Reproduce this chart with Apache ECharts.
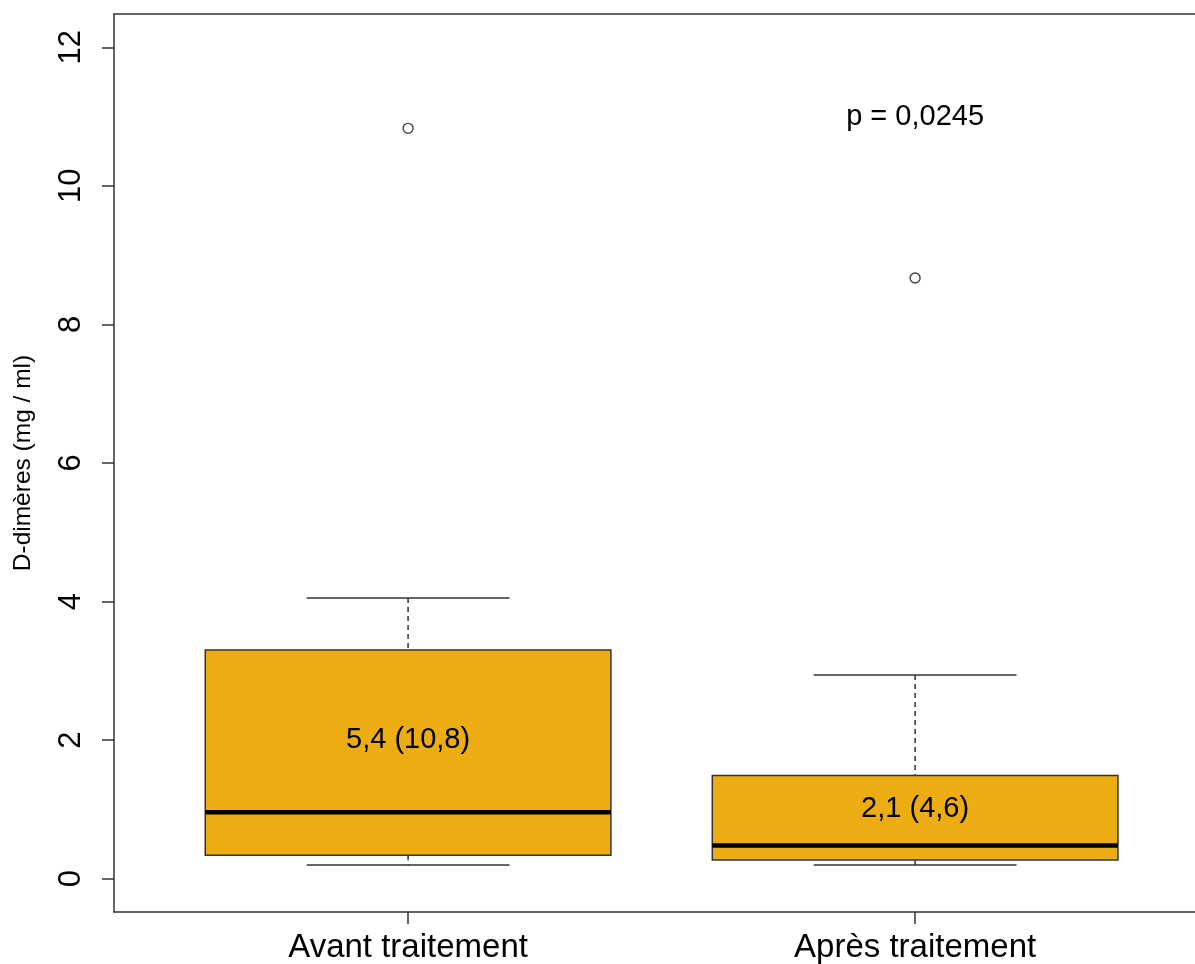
<!DOCTYPE html>
<html>
<head>
<meta charset="utf-8">
<script src="https://cdn.jsdelivr.net/npm/echarts@6/dist/echarts.min.js"></script>
<style>
html,body{margin:0;padding:0;background:#fff;}
#chart{width:1195px;height:964px;}
</style>
</head>
<body>
<div id="chart"></div>
<script>
// ---- data ----
const categories = ['Avant traitement', 'Après traitement'];
const lowerWhisker = [0.20, 0.20];
const q1Values = [0.34, 0.27];
const medianValues = [0.96, 0.48];
const q3Values = [3.30, 1.49];
const upperWhisker = [4.05, 2.94];
const outlierValues = [10.83, 8.67];
const boxLabels = ['5,4 (10,8)', '2,1 (4,6)'];
const boxLabelY = [2.0, 1.0];
const pValueText = 'p = 0,0245';
const pValueY = 11.0;
const yTicks = [0, 2, 4, 6, 8, 10, 12];
const yTitle = 'D-dimères (mg / ml)';

// ---- build series data ----
const boxData = categories.map((c, i) => [i + 1, lowerWhisker[i], q1Values[i], medianValues[i], q3Values[i], upperWhisker[i]]);
const outlierData = categories.map((c, i) => [i + 1, outlierValues[i]]);
const textData = categories.map((c, i) => [i + 1, boxLabelY[i], boxLabels[i]]);
textData.push([2, pValueY, pValueText]);

const FONT = 'Liberation Sans, Arial, sans-serif';
const LINE = '#333333';
const FILL = '#ECAD12';
const X_MIN = 0.42, X_MAX = 2.552;

const chart = echarts.init(document.getElementById('chart'), null, {renderer: 'canvas'});
chart.setOption({
  animation: false,
  backgroundColor: '#ffffff',
  grid: {left: 114, right: 0, top: 14, bottom: 51, show: false},
  xAxis: [
    {
      type: 'value', min: X_MIN, max: X_MAX, position: 'bottom',
      axisLine: {show: true, onZero: false, lineStyle: {color: LINE, width: 1.5}},
      splitLine: {show: false},
      axisTick: {show: true, length: 12, customValues: [1, 2], lineStyle: {color: LINE, width: 1.5}},
      axisLabel: {show: true, customValues: [1, 2], margin: 19, fontSize: 33, fontFamily: FONT, color: '#000',
        formatter: v => categories[Math.round(v) - 1] || ''}
    },
    {
      type: 'value', min: X_MIN, max: X_MAX, position: 'top',
      axisLine: {show: true, onZero: false, lineStyle: {color: LINE, width: 1.5}},
      splitLine: {show: false}, axisTick: {show: false}, axisLabel: {show: false}
    }
  ],
  yAxis: {
    type: 'value', min: -0.48, max: 12.48, position: 'left',
    name: yTitle, nameLocation: 'middle', nameRotate: 90, nameGap: 78,
    nameTextStyle: {fontSize: 24.5, fontFamily: FONT, color: '#000'},
    axisLine: {show: true, onZero: false, lineStyle: {color: LINE, width: 1.5}},
    splitLine: {show: false},
    axisTick: {show: true, length: 12, customValues: yTicks, lineStyle: {color: LINE, width: 1.5}},
    axisLabel: {show: true, customValues: yTicks, rotate: 90, margin: 27, fontSize: 31, fontFamily: FONT, color: '#000'}
  },
  series: [
    {
      type: 'custom',
      data: boxData,
      z: 2,
      renderItem: function (params, api) {
        const x = api.value(0);
        const lw = api.value(1), q1 = api.value(2), med = api.value(3), q3 = api.value(4), uw = api.value(5);
        const half = api.size([0.4, 0])[0];
        const staple = half / 2;
        const pQ1 = api.coord([x, q1]);
        const pQ3 = api.coord([x, q3]);
        const pMed = api.coord([x, med]);
        const pLw = api.coord([x, lw]);
        const pUw = api.coord([x, uw]);
        const cx = pQ1[0];
        const dashStyle = {stroke: LINE, lineWidth: 1.5, lineDash: [5, 4]};
        const solid = {stroke: LINE, lineWidth: 1.5};
        return {
          type: 'group',
          children: [
            {type: 'line', shape: {x1: cx, y1: pUw[1], x2: cx, y2: pQ3[1]}, style: dashStyle},
            {type: 'line', shape: {x1: cx, y1: pQ1[1], x2: cx, y2: pLw[1]}, style: dashStyle},
            {type: 'line', shape: {x1: cx - staple, y1: pUw[1], x2: cx + staple, y2: pUw[1]}, style: solid},
            {type: 'line', shape: {x1: cx - staple, y1: pLw[1], x2: cx + staple, y2: pLw[1]}, style: solid},
            {type: 'rect', shape: {x: cx - half, y: pQ3[1], width: 2 * half, height: pQ1[1] - pQ3[1]},
              style: {fill: FILL, stroke: LINE, lineWidth: 1.5}},
            {type: 'line', shape: {x1: cx - half, y1: pMed[1], x2: cx + half, y2: pMed[1]}, style: {stroke: '#000', lineWidth: 4.5}}
          ]
        };
      }
    },
    {
      type: 'scatter',
      data: outlierData,
      symbol: 'circle',
      symbolSize: 10,
      z: 3,
      itemStyle: {color: '#ffffff', borderColor: '#111', borderWidth: 1.4}
    },
    {
      type: 'custom',
      data: textData,
      z: 4,
      renderItem: function (params, api) {
        const p = api.coord([api.value(0), api.value(1)]);
        return {
          type: 'text',
          x: p[0], y: p[1],
          style: {text: textData[params.dataIndex][2], fontSize: 29, fontFamily: FONT, fill: '#000', align: 'center', verticalAlign: 'middle'}
        };
      }
    }
  ]
});
</script>
</body>
</html>
